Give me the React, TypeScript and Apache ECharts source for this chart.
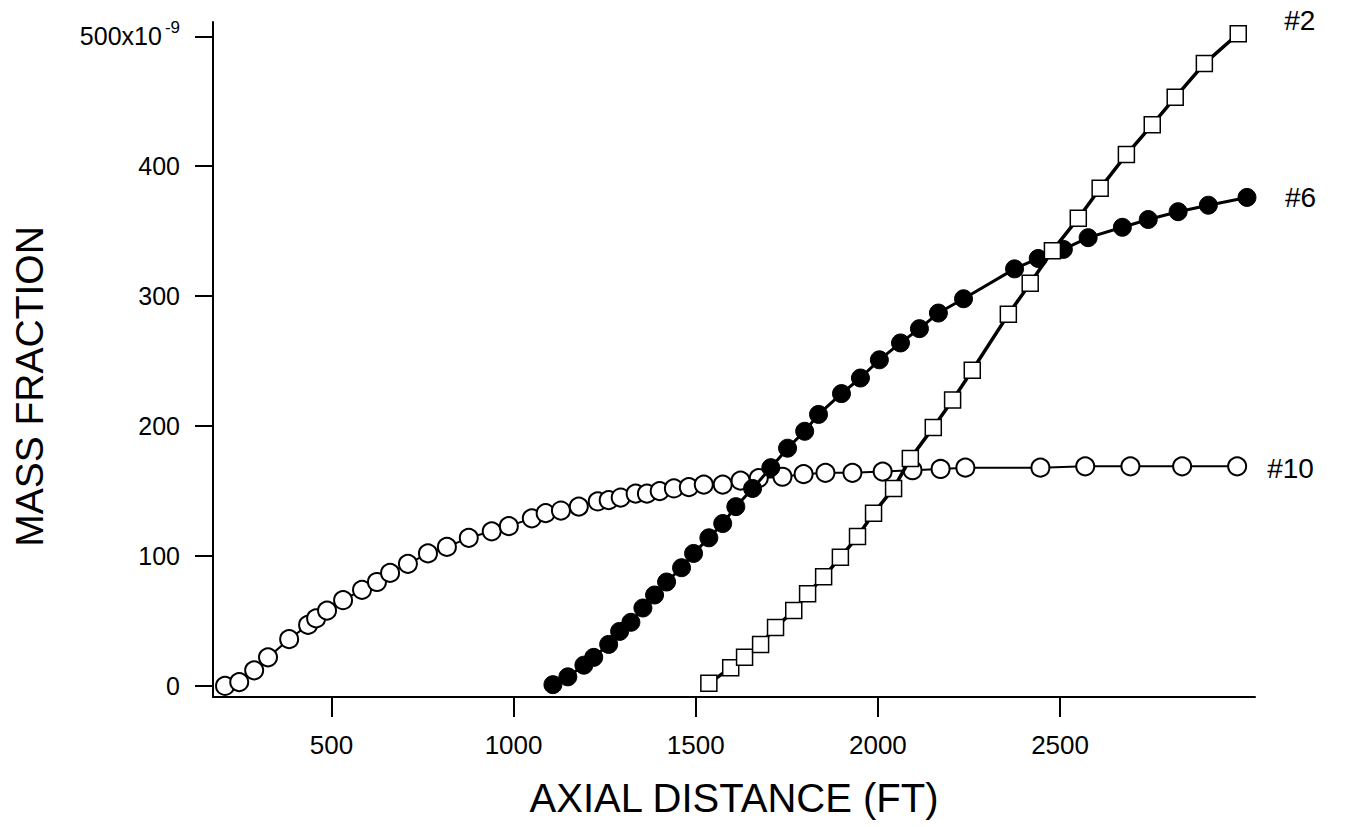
import React, { useEffect, useRef } from "react";
import * as echarts from "echarts";

// Series #10 (open circles)
const s10X = [208, 247, 288, 326, 384, 436, 458, 488, 532, 584, 625, 661, 710, 765, 817, 877, 940, 987, 1050, 1088, 1130, 1179, 1231, 1261, 1294, 1335, 1366, 1401, 1440, 1481, 1522, 1574, 1623, 1673, 1738, 1796, 1856, 1930, 2013, 2095, 2172, 2240, 2446, 2569, 2693, 2835, 2986];
const s10Y = [0, 3, 12, 22, 36, 47, 52, 58, 66, 74, 80, 87, 94, 102, 107, 114, 119, 123, 129, 133, 135, 138, 142, 143, 145, 148, 148, 150, 152, 153, 155, 155, 158, 160, 161, 163, 164, 164, 165, 166, 167, 168, 168, 169, 169, 169, 169];

// Series #6 (filled circles)
const s6X = [1108, 1149, 1193, 1220, 1261, 1291, 1322, 1355, 1387, 1420, 1461, 1494, 1536, 1574, 1610, 1656, 1706, 1752, 1799, 1837, 1900, 1952, 2004, 2062, 2114, 2166, 2235, 2375, 2440, 2509, 2577, 2671, 2742, 2824, 2907, 3013];
const s6Y = [1, 7, 16, 22, 32, 42, 49, 60, 70, 80, 91, 102, 114, 125, 138, 152, 168, 183, 196, 209, 225, 237, 251, 264, 275, 287, 298, 321, 329, 336, 345, 353, 359, 365, 370, 376];

// Series #2 (open squares)
const s2X = [1536, 1596, 1634, 1678, 1719, 1769, 1807, 1851, 1897, 1944, 1988, 2043, 2089, 2152, 2205, 2259, 2358, 2418, 2479, 2550, 2610, 2682, 2753, 2816, 2896, 2989];
const s2Y = [2, 14, 22, 32, 45, 58, 71, 84, 99, 115, 133, 152, 175, 199, 220, 243, 286, 310, 335, 360, 383, 409, 432, 453, 479, 502];

const xTicks = [500, 1000, 1500, 2000, 2500];
const yTicks = [0, 100, 200, 300, 400, 500];

const FONT = "'Liberation Sans', Arial, Helvetica, sans-serif";

function zip(xs: number[], ys: number[]) {
  return xs.map((x, i) => [x, ys[i]]);
}

export default function App() {
  const ref = useRef<HTMLDivElement>(null);
  useEffect(() => {
    if (!ref.current) return;
    const chart = echarts.init(ref.current, undefined, { renderer: "svg" });
    const axisLine = { show: true, onZero: false, lineStyle: { color: "#000", width: 2 } };
    chart.setOption({
      animation: false,
      backgroundColor: "#fff",
      grid: { left: 213, right: 90, top: 22, bottom: 130, containLabel: false },
      xAxis: {
        type: "value",
        min: 175,
        max: 3035,
        axisLine,
        axisTick: { show: true, customValues: xTicks, length: 20, lineStyle: { color: "#000", width: 2 } },
        axisLabel: {
          customValues: xTicks,
          color: "#000",
          fontSize: 26,
          fontFamily: FONT,
          margin: 35,
          formatter: (v: number) => String(v),
        },
        splitLine: { show: false },
        name: "AXIAL DISTANCE (FT)",
        nameLocation: "middle",
        nameGap: 81,
        nameTextStyle: { color: "#000", fontSize: 40, fontFamily: FONT },
      },
      yAxis: {
        type: "value",
        min: -8.5,
        max: 511,
        axisLine,
        axisTick: { show: true, customValues: yTicks, length: 18, lineStyle: { color: "#000", width: 2 } },
        axisLabel: {
          customValues: yTicks,
          color: "#000",
          fontSize: 25,
          fontFamily: FONT,
          margin: 33,
          formatter: (v: number) => (v === 500 ? "500x10{sup|-9}" : String(v)),
          rich: {
            sup: { fontSize: 17, fontFamily: FONT, color: "#000", padding: [0, 0, 18, 3] },
          },
        },
        splitLine: { show: false },
        name: "MASS FRACTION",
        nameLocation: "middle",
        nameGap: 164,
        nameTextStyle: { color: "#000", fontSize: 39, fontFamily: FONT, padding: [0, 54, 0, 0] },
      },
      series: [
        {
          name: "#10",
          type: "line",
          data: zip(s10X, s10Y),
          symbol: "circle",
          symbolSize: 18,
          lineStyle: { color: "#000", width: 2 },
          itemStyle: { color: "#fff", borderColor: "#000", borderWidth: 2 },
          endLabel: { show: true, formatter: "#10", color: "#000", fontSize: 28, fontFamily: FONT, offset: [22, 2] },
          z: 2,
        },
        {
          name: "#6",
          type: "line",
          data: zip(s6X, s6Y),
          symbol: "circle",
          symbolSize: 18,
          lineStyle: { color: "#000", width: 3 },
          itemStyle: { color: "#000", borderColor: "#000", borderWidth: 1 },
          endLabel: { show: true, formatter: "#6", color: "#000", fontSize: 28, fontFamily: FONT, offset: [30, 0] },
          z: 3,
        },
        {
          name: "#2",
          type: "line",
          data: zip(s2X, s2Y),
          symbol: "rect",
          symbolSize: 16,
          lineStyle: { color: "#000", width: 3.5 },
          itemStyle: { color: "#fff", borderColor: "#000", borderWidth: 1.5 },
          endLabel: { show: true, formatter: "#2", color: "#000", fontSize: 28, fontFamily: FONT, offset: [38, -13] },
          z: 4,
        },
      ],
    });
    return () => chart.dispose();
  }, []);
  return (
    <div
      ref={ref}
      style={{ position: "fixed", left: 0, top: 0, width: 1345, height: 827, background: "#fff" }}
    />
  );
}
